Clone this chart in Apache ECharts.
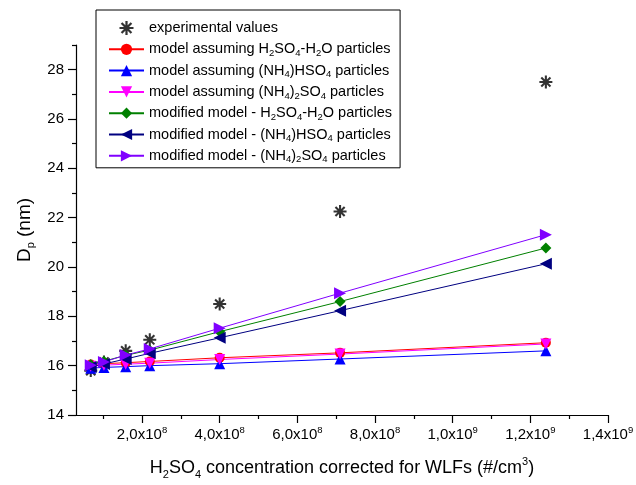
<!DOCTYPE html>
<html>
<head>
<meta charset="utf-8">
<script src="https://cdn.jsdelivr.net/npm/echarts@6.0.0/dist/echarts.min.js"></script>
<style>
    html, body { margin: 0; background: #fff; }
    #chart { width: 636px; height: 485px; }
</style>
</head>
<body>
<div id="chart"></div>
<script>
// H2SO4 concentration (#/cm3) for each run
const concentration = [0.68e8, 1.02e8, 1.58e8, 2.2e8, 4.0e8, 7.1e8, 12.4e8];

// Dp (nm) values
const experimental = [15.8, 16.15, 16.6, 17.05, 18.5, 22.25, 27.5];
const modelH2so4 = [16.05, 16.08, 16.12, 16.17, 16.32, 16.52, 16.93];
const modelNh4Hso4 = [15.9, 15.93, 15.96, 16.0, 16.08, 16.27, 16.6];
const modelNh42So4 = [15.98, 16.02, 16.06, 16.1, 16.25, 16.47, 16.88];
const modifiedH2so4 = [16.05, 16.18, 16.42, 16.63, 17.38, 18.6, 20.77];
const modifiedNh4Hso4 = [15.95, 16.07, 16.27, 16.5, 17.13, 18.23, 20.13];
const modifiedNh42So4 = [16.02, 16.15, 16.43, 16.68, 17.52, 18.94, 21.31];

const seriesNames = [
    'experimental values',
    'model assuming H2SO4-H2O particles',
    'model assuming (NH4)HSO4 particles',
    'model assuming (NH4)2SO4 particles',
    'modified model - H2SO4-H2O particles',
    'modified model - (NH4)HSO4 particles',
    'modified model - (NH4)2SO4 particles'
];

// tick positions
const xMajorTicks = [2e8, 4e8, 6e8, 8e8, 1e9, 1.2e9, 1.4e9];
const xMinorTicks = [1e8, 3e8, 5e8, 7e8, 9e8, 1.1e9, 1.3e9];
const yMajorTicks = [14, 16, 18, 20, 22, 24, 26, 28];
const yMinorTicks = [15, 17, 19, 21, 23, 25, 27, 29];

const FONT = '"Liberation Sans", Arial, sans-serif';

// sub / superscript styles for rich text
const richText = (size) => ({
    sub: { fontFamily: FONT, fontSize: size, lineHeight: 8, verticalAlign: 'bottom', color: '#000' },
    sup: { fontFamily: FONT, fontSize: size, lineHeight: 8, verticalAlign: 'top', color: '#000' }
});

// asterisk made of four thin bars
const starPath = (() => {
    let d = '';
    [0, 45, 90, 135].forEach(a => {
        const r = a * Math.PI / 180;
        const c = Math.cos(r), s = Math.sin(r);
        const L = 10, w = 1.6;
        const pts = [[-L, -w], [L, -w], [L, w], [-L, w]].map(([px, py]) =>
            [(10 + px * c - py * s).toFixed(2), (10 + px * s + py * c).toFixed(2)]);
        d += 'M' + pts.map(p => p.join(',')).join(' L') + ' Z ';
    });
    return 'path://' + d;
})();

const triUp = 'path://M5,0 L10,9 L0,9 Z';
const triDown = 'path://M0,0 L10,0 L5,9 Z';
const triLeft = 'path://M0,5 L9,0 L9,10 Z';
const triRight = 'path://M0,0 L9,5 L0,10 Z';

const pairUp = (values) => concentration.map((x, i) => [x, values[i]]);

const lineSeries = (name, values, color, symbol, size) => ({
    name: name,
    type: 'line',
    data: pairUp(values),
    symbol: symbol,
    symbolSize: size,
    showAllSymbol: true,
    lineStyle: { width: 1, color: color },
    itemStyle: { color: color },
    emphasis: { disabled: true }
});

const chart = echarts.init(document.getElementById('chart'));

const option = {
    animation: false,
    backgroundColor: '#fff',
    grid: { left: 76, right: 28, top: 45, bottom: 70, outerBoundsMode: 'none' },
    legend: {
        orient: 'vertical',
        left: 96,
        top: 10,
        padding: [9, 8, 3, 12],
        itemWidth: 35,
        itemHeight: 14,
        itemGap: 3.3,
        borderColor: '#000',
        borderWidth: 1,
        backgroundColor: '#fff',
        textStyle: { fontFamily: FONT, fontSize: 14.5, lineHeight: 18, color: '#000', rich: richText(9.5) },
        formatter: name => name.replace(/(\d)/g, '{sub|$1}'),
        data: seriesNames
    },
    xAxis: [
        {
            type: 'value',
            min: 3e7,
            max: 1.4e9,
            name: 'H{sub|2}SO{sub|4} concentration corrected for WLFs (#/cm{sup|3})',
            nameLocation: 'middle',
            nameGap: 41,
            nameTextStyle: { fontFamily: FONT, fontSize: 18, lineHeight: 24, color: '#000', rich: richText(11) },
            axisLine: { lineStyle: { color: '#000', width: 1.2 } },
            axisTick: { length: 8, lineStyle: { color: '#000', width: 1.2 }, customValues: xMajorTicks },
            axisLabel: {
                customValues: xMajorTicks,
                margin: 10,
                fontFamily: FONT,
                fontSize: 15,
                lineHeight: 20,
                color: '#000',
                rich: richText(9.5),
                formatter: value => {
                    const exp = value >= 1e9 ? 9 : 8;
                    const mant = (value / Math.pow(10, exp)).toFixed(1).replace('.', ',');
                    return mant + 'x10{sup|' + exp + '}';
                }
            },
            splitLine: { show: false }
        },
        {
            // minor ticks only
            type: 'value',
            min: 3e7,
            max: 1.4e9,
            position: 'bottom',
            axisLine: { show: false },
            axisTick: { length: 4, lineStyle: { color: '#000', width: 1.2 }, customValues: xMinorTicks },
            axisLabel: { show: false },
            splitLine: { show: false }
        }
    ],
    yAxis: [
        {
            type: 'value',
            min: 14,
            max: 29,
            name: 'D{sub|p} (nm)',
            nameLocation: 'middle',
            nameGap: 33,
            nameTextStyle: { fontFamily: FONT, fontSize: 19, lineHeight: 24, color: '#000', rich: richText(11) },
            axisLine: { lineStyle: { color: '#000', width: 1.2 } },
            axisTick: { length: 8, lineStyle: { color: '#000', width: 1.2 }, customValues: yMajorTicks },
            axisLabel: { customValues: yMajorTicks, margin: 12, fontFamily: FONT, fontSize: 15, color: '#000' },
            splitLine: { show: false }
        },
        {
            type: 'value',
            min: 14,
            max: 29,
            position: 'left',
            axisLine: { show: false },
            axisTick: { length: 4, lineStyle: { color: '#000', width: 1.2 }, customValues: yMinorTicks },
            axisLabel: { show: false },
            splitLine: { show: false }
        }
    ],
    series: [
        {
            name: seriesNames[0],
            type: 'scatter',
            data: pairUp(experimental),
            symbol: starPath,
            symbolSize: 13,
            itemStyle: { color: '#000' },
            emphasis: { disabled: true }
        },
        lineSeries(seriesNames[1], modelH2so4, '#FF0000', 'circle', 10),
        lineSeries(seriesNames[2], modelNh4Hso4, '#0000FF', triUp, 11),
        lineSeries(seriesNames[3], modelNh42So4, '#FF00FF', triDown, 11),
        lineSeries(seriesNames[4], modifiedH2so4, '#008000', 'diamond', 11),
        lineSeries(seriesNames[5], modifiedNh4Hso4, '#000080', triLeft, 12),
        lineSeries(seriesNames[6], modifiedNh42So4, '#8000FF', triRight, 12)
    ]
};

chart.setOption(option);
</script>
</body>
</html>
